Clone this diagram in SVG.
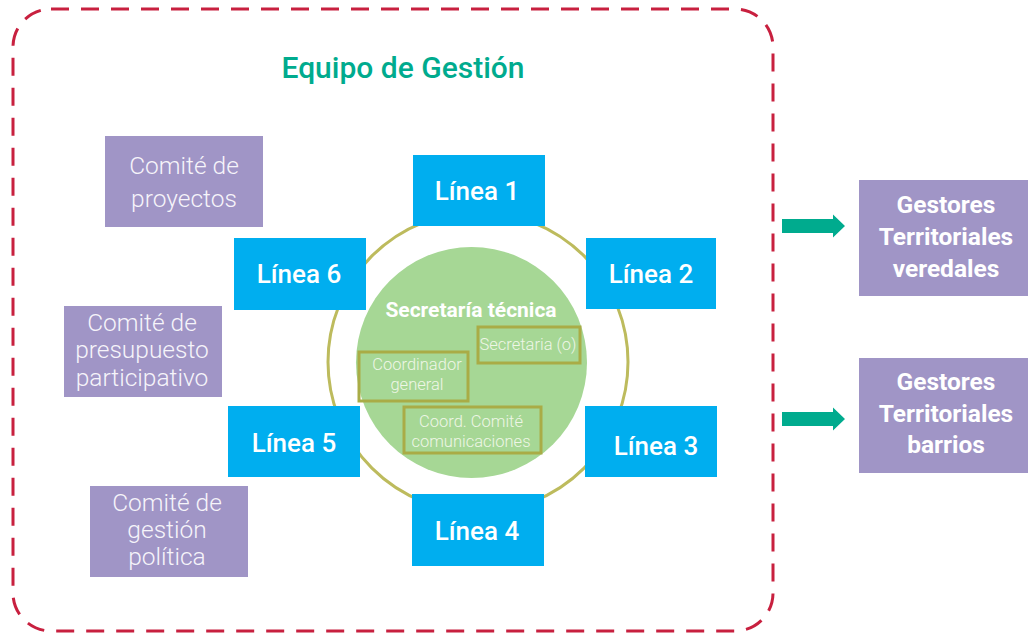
<svg xmlns="http://www.w3.org/2000/svg" width="1028" height="633" viewBox="0 0 1028 633">
<style>
.linea rect{fill:#00aeef}
.linea text{font-family:Roboto,"Liberation Sans",sans-serif;font-weight:500;font-size:26px;fill:#ffffff;text-anchor:middle}
.comite rect{fill:#a095c6}
.comite text{font-family:Roboto,"Liberation Sans",sans-serif;font-weight:300;font-size:24.5px;fill:#f6f4fa;text-anchor:middle}
.gestor rect{fill:#a095c6}
.gestor text{font-family:Roboto,"Liberation Sans",sans-serif;font-weight:700;font-size:24.5px;fill:#ffffff;text-anchor:middle}
.inner rect{fill:none;stroke:#a9ac46;stroke-width:3}
.inner text{font-family:Roboto,"Liberation Sans",sans-serif;font-weight:300;font-size:16.5px;fill:#eef6e6;text-anchor:middle}
.arrow{fill:#00ab8e}
</style>
<rect width="1028" height="633" fill="#ffffff"/>
<rect id="frame" x="13" y="9" width="760" height="622" rx="38" ry="38" fill="none" stroke="#c8203f" stroke-width="3" stroke-dasharray="18 12"/>
<text id="title" x="403" y="78" font-family="Roboto,'Liberation Sans',sans-serif" font-weight="500" font-size="30" fill="#00ab8e" text-anchor="middle">Equipo de Gestión</text>
<g id="ring"><circle cx="478" cy="362" r="150" fill="none" stroke="#bdbb5d" stroke-width="3"/></g>
<g id="secretaria-tecnica">
<circle cx="471.5" cy="362.5" r="115.5" fill="#a6d795"/>
<text x="471" y="317" font-family="Roboto,'Liberation Sans',sans-serif" font-weight="700" font-size="21" fill="#ffffff" text-anchor="middle">Secretaría técnica</text>
</g>
<g id="secretaria" class="inner"><rect x="478" y="327" width="102" height="36"/><text x="528" y="350">Secretaria (o)</text></g>
<g id="coordinador" class="inner"><rect x="359" y="352" width="109" height="49"/><text x="417" y="370">Coordinador</text><text x="417" y="390">general</text></g>
<g id="coord-comite" class="inner"><rect x="404" y="407" width="137" height="46"/><text x="471" y="427">Coord. Comité</text><text x="471" y="447">comunicaciones</text></g>
<g id="linea1" class="linea"><rect x="413" y="155" width="132" height="71"/><text x="477" y="200">Línea 1</text></g>
<g id="linea2" class="linea"><rect x="586" y="238" width="130" height="71"/><text x="651" y="283">Línea 2</text></g>
<g id="linea3" class="linea"><rect x="585" y="406" width="132" height="71"/><text x="656" y="455">Línea 3</text></g>
<g id="linea4" class="linea"><rect x="412" y="494" width="132" height="72"/><text x="477" y="540">Línea 4</text></g>
<g id="linea5" class="linea"><rect x="228" y="406" width="132" height="71"/><text x="294" y="452">Línea 5</text></g>
<g id="linea6" class="linea"><rect x="234" y="238" width="132" height="72"/><text x="299" y="283">Línea 6</text></g>
<g id="comite-proyectos" class="comite"><rect x="105" y="136" width="158" height="91"/><text x="184" y="174">Comité de</text><text x="184" y="207">proyectos</text></g>
<g id="comite-presupuesto" class="comite"><rect x="64" y="306" width="158" height="91"/><text x="142" y="331">Comité de</text><text x="142" y="358">presupuesto</text><text x="142" y="386">participativo</text></g>
<g id="comite-gestion" class="comite"><rect x="90" y="486" width="158" height="91"/><text x="167" y="511">Comité de</text><text x="167" y="538">gestión</text><text x="167" y="565">política</text></g>
<g id="gestores-veredales" class="gestor"><rect x="859" y="180" width="169" height="116"/><text x="946" y="213">Gestores</text><text x="946" y="245">Territoriales</text><text x="946" y="277">veredales</text></g>
<g id="gestores-barrios" class="gestor"><rect x="859" y="358" width="169" height="115"/><text x="946" y="390">Gestores</text><text x="946" y="422">Territoriales</text><text x="946" y="453">barrios</text></g>
<g id="connectors">
<polygon class="arrow" points="782,219 833,219 833,214.5 845,226 833,237.5 833,233 782,233"/>
<polygon class="arrow" points="782,412 833,412 833,407.5 845,419 833,430.5 833,426 782,426"/>
</g>
</svg>
